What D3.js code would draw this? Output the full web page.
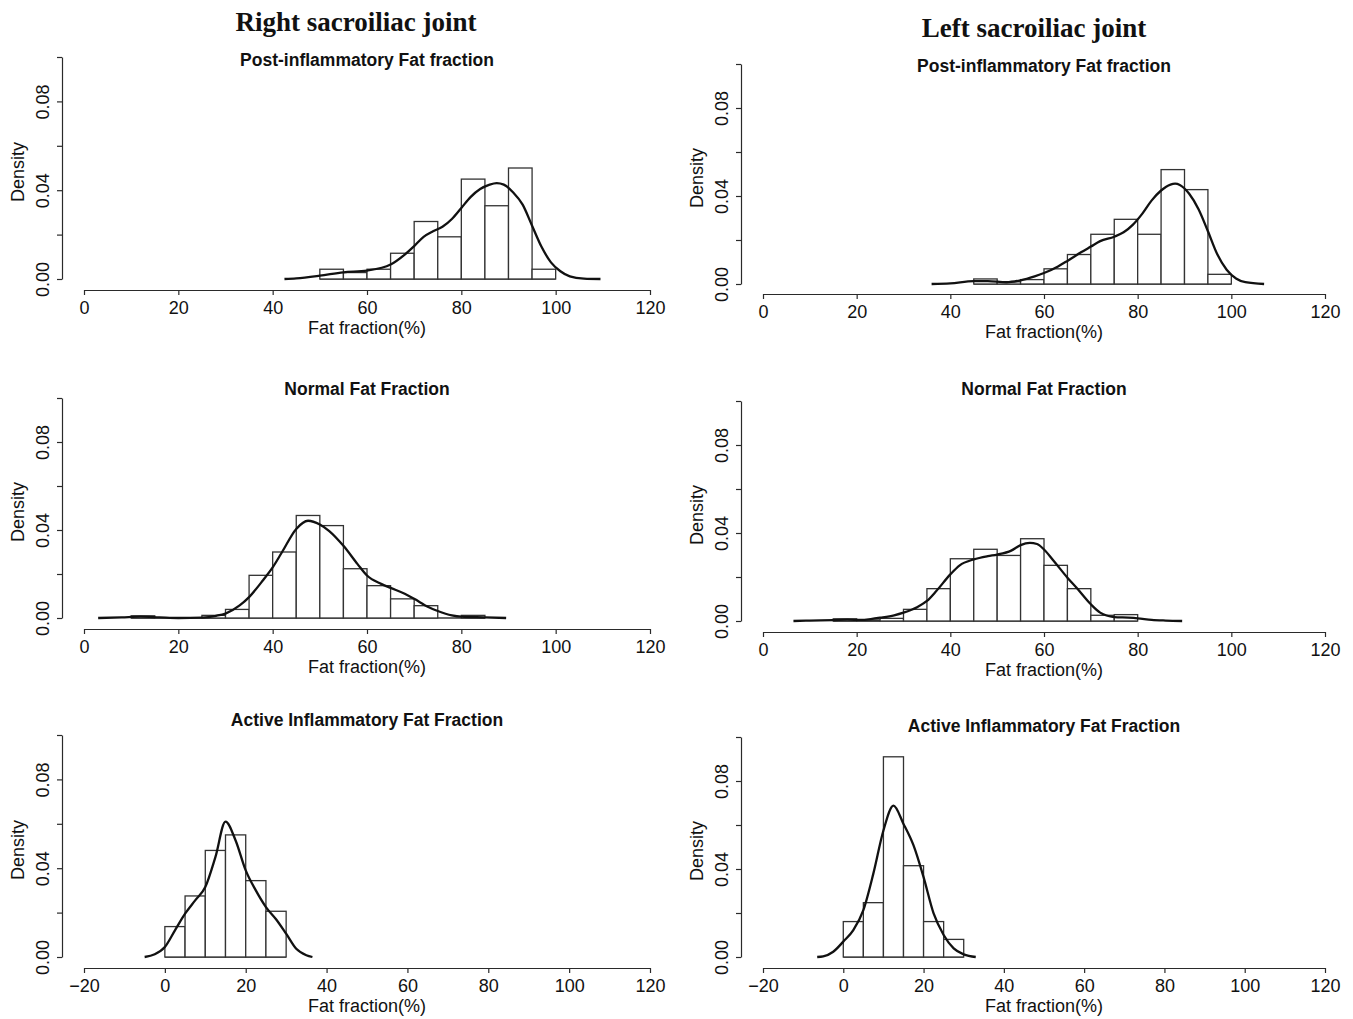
<!DOCTYPE html>
<html>
<head>
    <meta charset="utf-8">
    <style>
        body { margin: 0; background: #fff; }
        text { font-family: "Liberation Sans", Arial, sans-serif; fill: #111; }
    </style>
</head>
<body>
    <div id="graph"></div>
    <script src="https://d3js.org/d3.v7.min.js"></script>
    <script>
        // Ejes compartidos
        const Y_TICKS = [0, 0.02, 0.04, 0.06, 0.08, 0.10];
        const Y_LABELS = ["0.00", "", "0.04", "", "0.08", ""];
        const X_TICKS_TOP = [0, 20, 40, 60, 80, 100, 120];
        const X_TICKS_ACTIVE = [-20, 0, 20, 40, 60, 80, 100, 120];
        const BIN_WIDTH = 5;

        // Derecha - post-inflamatoria
        const binsRightPost = [50, 55, 60, 65, 70, 75, 80, 85, 90, 95];
        const barsRightPost = [0.0044, 0.0029, 0.0044, 0.0116, 0.0259, 0.019, 0.045, 0.033, 0.050, 0.0044];
        const densRightPost = [[42.5, 0], [45, 0.0003], [50, 0.0015], [55, 0.003], [60, 0.0038], [65, 0.0065], [68, 0.011],
            [70, 0.0148], [72, 0.019], [74, 0.0215], [76, 0.0235], [78, 0.027], [80, 0.032], [82, 0.037], [84, 0.0405],
            [86, 0.0425], [87.5, 0.0432], [89, 0.0425], [91, 0.039], [93, 0.0335], [95, 0.024], [97, 0.0145], [99, 0.0075],
            [101, 0.0035], [103, 0.0012], [106, 0.0002], [109.5, 0]];

        // Izquierda - post-inflamatoria
        const binsLeftPost = [45, 50, 55, 60, 65, 70, 75, 80, 85, 90, 95];
        const barsLeftPost = [0.0023, 0.001, 0.002, 0.0069, 0.0134, 0.0226, 0.0294, 0.0226, 0.052, 0.0429, 0.0044];
        const densLeftPost = [[36, 0], [40, 0.0003], [45, 0.0013], [48, 0.0013], [52, 0.0008], [55, 0.0017], [58, 0.0035],
            [60, 0.005], [63, 0.008], [65, 0.0105], [68, 0.0145], [70, 0.017], [72, 0.0195], [75, 0.0215], [77, 0.0235],
            [79, 0.027], [81, 0.032], [83, 0.038], [85, 0.0425], [87, 0.0452], [88, 0.0456], [89, 0.045], [91, 0.041],
            [93, 0.034], [95, 0.024], [97, 0.0135], [99, 0.0065], [101, 0.0025], [103, 0.0008], [107, 0]];

        // Derecha - normal
        const binsRightNormal = [10, 15, 20, 25, 30, 35, 40, 45, 50, 55, 60, 65, 70, 75, 80];
        const barsRightNormal = [0.001, 0, 0, 0.0012, 0.0039, 0.0194, 0.030, 0.0466, 0.042, 0.0224, 0.0147, 0.0087, 0.0056, 0, 0.0012];
        const densRightNormal = [[3, 0], [8, 0.0003], [12, 0.0006], [16, 0.0003], [20, 0], [25, 0.0002], [28, 0.001],
            [30, 0.002], [33, 0.0057], [35, 0.0095], [38, 0.0173], [40, 0.023], [42, 0.030], [45, 0.0405], [47.5, 0.0442],
            [50, 0.0425], [52, 0.0395], [55, 0.0328], [58, 0.0245], [60, 0.0193], [63, 0.0155], [65, 0.0137], [68, 0.011],
            [70, 0.0087], [73, 0.005], [75, 0.0032], [78, 0.0012], [80, 0.0006], [85, 0.0003], [89.5, 0]];

        // Izquierda - normal
        const binsLeftNormal = [15, 20, 25, 30, 35, 40, 45, 50, 55, 60, 65, 70, 75];
        const barsLeftNormal = [0.001, 0.0005, 0.0012, 0.0053, 0.0147, 0.0283, 0.0326, 0.0298, 0.0374, 0.0253, 0.0147, 0.0026, 0.0029];
        const densLeftNormal = [[6.5, 0], [10, 0.0002], [15, 0.0004], [18, 0.0006], [21, 0.0005], [23, 0.0009], [25, 0.0015],
            [28, 0.0026], [30, 0.0038], [33, 0.0064], [35, 0.0091], [37, 0.0136], [40, 0.0212], [42, 0.0253], [45, 0.028],
            [48, 0.0295], [50, 0.0302], [53, 0.032], [55, 0.0345], [57, 0.0355], [58.5, 0.035], [60, 0.0325], [62, 0.0275],
            [65, 0.0197], [67, 0.015], [70, 0.0076], [72, 0.0038], [75, 0.0018], [78, 0.0015], [80, 0.0012], [83, 0.0005],
            [86, 0.0002], [89.5, 0]];

        // Derecha - inflamatoria activa
        const binsRightActive = [0, 5, 10, 15, 20, 25];
        const barsRightActive = [0.0137, 0.0275, 0.048, 0.055, 0.0344, 0.0206];
        const densRightActive = [[-5, 0], [-2.5, 0.0012], [0, 0.0045], [2.5, 0.012], [5, 0.0195], [7.5, 0.0255], [10, 0.0315],
            [12.5, 0.045], [15, 0.061], [17.5, 0.0525], [20, 0.039], [22.5, 0.030], [25, 0.0225], [27.5, 0.017], [30, 0.0105],
            [32.5, 0.0037], [35, 0.0008], [36.5, 0]];

        // Izquierda - inflamatoria activa
        const binsLeftActive = [0, 5, 10, 15, 20, 25];
        const barsLeftActive = [0.0161, 0.0247, 0.091, 0.0415, 0.0161, 0.008];
        const densLeftActive = [[-6.5, 0], [-5, 0.0003], [-2.5, 0.0024], [0, 0.007], [2.5, 0.0122], [5, 0.0213], [7.5, 0.038],
            [10, 0.0575], [12.5, 0.0688], [15, 0.0605], [17.5, 0.0507], [20, 0.0363], [22.5, 0.0198], [25, 0.010],
            [27.5, 0.0039], [30, 0.0012], [33, 0]];

        const WIDTH = 1353;
        const HEIGHT = 1019;

        const svg = d3.select("#graph")
            .append("svg")
            .attr("width", WIDTH)
            .attr("height", HEIGHT);

        // Titulos de columna
        svg.append("text")
            .attr("x", 356).attr("y", 31)
            .attr("text-anchor", "middle")
            .style("font-family", "'Liberation Serif', 'Times New Roman', serif")
            .style("font-weight", "bold")
            .style("font-size", "27px")
            .text("Right sacroiliac joint");

        svg.append("text")
            .attr("x", 1034).attr("y", 37)
            .attr("text-anchor", "middle")
            .style("font-family", "'Liberation Serif', 'Times New Roman', serif")
            .style("font-weight", "bold")
            .style("font-size", "27px")
            .text("Left sacroiliac joint");

        const panels = [
            { title: "Post-inflammatory Fat fraction", bins: binsRightPost, bars: barsRightPost, dens: densRightPost,
              xDomain: [0, 120], xTicks: X_TICKS_TOP, yAxisX: 62, left: 84, right: 650, y0: 279, yTop: 57, axisY: 290, titleY: 66 },
            { title: "Post-inflammatory Fat fraction", bins: binsLeftPost, bars: barsLeftPost, dens: densLeftPost,
              xDomain: [0, 120], xTicks: X_TICKS_TOP, yAxisX: 741, left: 763, right: 1325, y0: 284, yTop: 64, axisY: 294, titleY: 72 },
            { title: "Normal Fat Fraction", bins: binsRightNormal, bars: barsRightNormal, dens: densRightNormal,
              xDomain: [0, 120], xTicks: X_TICKS_TOP, yAxisX: 62, left: 84, right: 650, y0: 618, yTop: 398, axisY: 629, titleY: 395 },
            { title: "Normal Fat Fraction", bins: binsLeftNormal, bars: barsLeftNormal, dens: densLeftNormal,
              xDomain: [0, 120], xTicks: X_TICKS_TOP, yAxisX: 741, left: 763, right: 1325, y0: 621, yTop: 401, axisY: 632, titleY: 395 },
            { title: "Active Inflammatory Fat Fraction", bins: binsRightActive, bars: barsRightActive, dens: densRightActive,
              xDomain: [-20, 120], xTicks: X_TICKS_ACTIVE, yAxisX: 62, left: 84, right: 650, y0: 957, yTop: 735, axisY: 968, titleY: 726 },
            { title: "Active Inflammatory Fat Fraction", bins: binsLeftActive, bars: barsLeftActive, dens: densLeftActive,
              xDomain: [-20, 120], xTicks: X_TICKS_ACTIVE, yAxisX: 741, left: 763, right: 1325, y0: 957, yTop: 737, axisY: 968, titleY: 732 }
        ];

        panels.forEach(drawPanel);

        function drawPanel(p) {
            const x = d3.scaleLinear().domain(p.xDomain).range([p.left, p.right]);
            const y = d3.scaleLinear().domain([0, 0.1]).range([p.y0, p.yTop]);
            const g = svg.append("g");

            // linea base del histograma (barras vacias)
            const lastBin = p.bins[p.bins.length - 1];
            g.append("line")
                .attr("x1", x(p.bins[0])).attr("x2", x(lastBin + BIN_WIDTH))
                .attr("y1", y(0)).attr("y2", y(0))
                .attr("stroke", "#333").attr("stroke-width", 1.3);

            // barras
            g.selectAll("rect.bar")
                .data(p.bars)
                .join("rect")
                .attr("class", "bar")
                .attr("x", (d, i) => x(p.bins[i]))
                .attr("width", (d, i) => x(p.bins[i] + BIN_WIDTH) - x(p.bins[i]))
                .attr("y", d => y(d))
                .attr("height", d => y(0) - y(d))
                .attr("fill", "#fff")
                .attr("stroke", "#333")
                .attr("stroke-width", 1.3);

            // curva de densidad
            const line = d3.line()
                .x(d => x(d[0]))
                .y(d => y(d[1]))
                .curve(d3.curveMonotoneX);

            g.append("path")
                .datum(p.dens)
                .attr("d", line)
                .attr("fill", "none")
                .attr("stroke", "#111")
                .attr("stroke-width", 2.3);

            // eje y
            const yAxis = g.append("g")
                .attr("transform", `translate(${p.yAxisX},0)`)
                .call(d3.axisLeft(y).tickValues(Y_TICKS).tickSize(5).tickSizeOuter(0)
                    .tickFormat((d, i) => Y_LABELS[i]));
            yAxis.selectAll("path, line").attr("stroke", "#2a2a2a").attr("stroke-width", 1.2);
            yAxis.selectAll("text")
                .attr("x", null).attr("dy", null)
                .attr("transform", "translate(-19,0) rotate(-90)")
                .attr("dy", "0.35em")
                .attr("text-anchor", "middle")
                .style("font-size", "18px")
                .attr("fill", "#111");

            // eje x
            const xAxis = g.append("g")
                .attr("transform", `translate(0,${p.axisY})`)
                .call(d3.axisBottom(x).tickValues(p.xTicks).tickSize(5).tickSizeOuter(0)
                    .tickFormat(d3.format("d")));
            xAxis.selectAll("path, line").attr("stroke", "#2a2a2a").attr("stroke-width", 1.2);
            xAxis.selectAll("text")
                .attr("y", 11)
                .style("font-size", "18px")
                .attr("fill", "#111");

            // etiquetas
            g.append("text")
                .attr("x", (p.left + p.right) / 2)
                .attr("y", p.axisY + 44)
                .attr("text-anchor", "middle")
                .style("font-size", "18px")
                .text("Fat fraction(%)");

            g.append("text")
                .attr("transform", `translate(${p.yAxisX - 44},${(p.y0 + p.yTop) / 2 + 4}) rotate(-90)`)
                .attr("dy", "0.35em")
                .attr("text-anchor", "middle")
                .style("font-size", "18px")
                .text("Density");

            g.append("text")
                .attr("x", (p.left + p.right) / 2)
                .attr("y", p.titleY)
                .attr("text-anchor", "middle")
                .style("font-size", "17.5px")
                .style("font-weight", "bold")
                .text(p.title);
        }
    </script>
</body>
</html>
